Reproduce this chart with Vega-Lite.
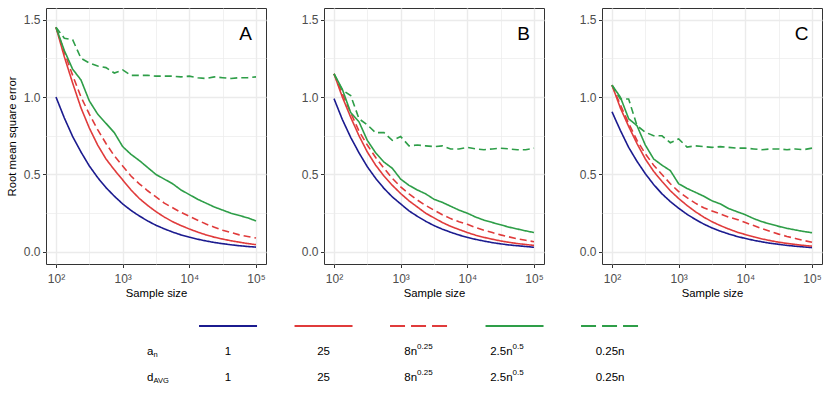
{
  "$schema": "https://vega.github.io/schema/vega-lite/v6.json",
  "padding": {"left": 5, "top": 7, "right": 5, "bottom": 0},
  "background": "white",
  "config": {
    "font": "Liberation Sans",
    "view": {"stroke": "#333333", "strokeWidth": 1},
    "axis": {
      "domain": false,
      "gridColor": "#EBEBEB",
      "tickColor": "#333333",
      "tickSize": 3.5,
      "labelColor": "#4D4D4D",
      "labelFont": "Liberation Sans",
      "labelFontSize": 12,
      "titleFont": "Liberation Sans",
      "titleFontSize": 11.3,
      "titleFontWeight": "normal",
      "titleColor": "#000000",
      "labelPadding": 2.5,
      "titlePadding": 6
    }
  },
  "datasets": {
    "rmse": [
      {"panel":"A","n":100,"a1":1.0,"a25":1.45,"a8":1.45,"a2_5":1.45,"a025":1.45},
      {"panel":"A","n":133.4,"a1":0.865,"a25":1.26,"a8":1.29,"a2_5":1.30,"a025":1.38},
      {"panel":"A","n":177.8,"a1":0.745,"a25":1.09,"a8":1.14,"a2_5":1.18,"a025":1.37},
      {"panel":"A","n":237.1,"a1":0.645,"a25":0.93,"a8":1.0,"a2_5":1.11,"a025":1.25},
      {"panel":"A","n":316.2,"a1":0.555,"a25":0.80,"a8":0.89,"a2_5":0.975,"a025":1.22},
      {"panel":"A","n":421.7,"a1":0.48,"a25":0.69,"a8":0.79,"a2_5":0.89,"a025":1.20},
      {"panel":"A","n":562.3,"a1":0.415,"a25":0.60,"a8":0.70,"a2_5":0.83,"a025":1.19},
      {"panel":"A","n":749.9,"a1":0.36,"a25":0.53,"a8":0.62,"a2_5":0.77,"a025":1.155},
      {"panel":"A","n":1000,"a1":0.31,"a25":0.465,"a8":0.555,"a2_5":0.68,"a025":1.175},
      {"panel":"A","n":1333.5,"a1":0.268,"a25":0.40,"a8":0.49,"a2_5":0.63,"a025":1.14},
      {"panel":"A","n":1778.3,"a1":0.232,"a25":0.345,"a8":0.44,"a2_5":0.59,"a025":1.14},
      {"panel":"A","n":2371.4,"a1":0.2,"a25":0.30,"a8":0.395,"a2_5":0.545,"a025":1.14},
      {"panel":"A","n":3162.3,"a1":0.172,"a25":0.26,"a8":0.355,"a2_5":0.50,"a025":1.135},
      {"panel":"A","n":4217,"a1":0.149,"a25":0.225,"a8":0.315,"a2_5":0.47,"a025":1.135},
      {"panel":"A","n":5623.4,"a1":0.128,"a25":0.195,"a8":0.285,"a2_5":0.44,"a025":1.135},
      {"panel":"A","n":7498.9,"a1":0.11,"a25":0.17,"a8":0.255,"a2_5":0.40,"a025":1.13},
      {"panel":"A","n":10000,"a1":0.095,"a25":0.148,"a8":0.23,"a2_5":0.37,"a025":1.135},
      {"panel":"A","n":13335,"a1":0.082,"a25":0.128,"a8":0.205,"a2_5":0.34,"a025":1.125},
      {"panel":"A","n":17783,"a1":0.071,"a25":0.11,"a8":0.18,"a2_5":0.315,"a025":1.12},
      {"panel":"A","n":23714,"a1":0.061,"a25":0.095,"a8":0.16,"a2_5":0.29,"a025":1.13},
      {"panel":"A","n":31623,"a1":0.053,"a25":0.083,"a8":0.14,"a2_5":0.27,"a025":1.125},
      {"panel":"A","n":42170,"a1":0.046,"a25":0.072,"a8":0.125,"a2_5":0.25,"a025":1.12},
      {"panel":"A","n":56234,"a1":0.04,"a25":0.063,"a8":0.11,"a2_5":0.235,"a025":1.125},
      {"panel":"A","n":74989,"a1":0.035,"a25":0.054,"a8":0.1,"a2_5":0.22,"a025":1.125},
      {"panel":"A","n":100000,"a1":0.031,"a25":0.047,"a8":0.09,"a2_5":0.20,"a025":1.13},

      {"panel":"B","n":100,"a1":0.99,"a25":1.15,"a8":1.15,"a2_5":1.15,"a025":1.15},
      {"panel":"B","n":133.4,"a1":0.855,"a25":1.0,"a8":1.02,"a2_5":1.05,"a025":1.045},
      {"panel":"B","n":177.8,"a1":0.74,"a25":0.87,"a8":0.9,"a2_5":0.9,"a025":1.01},
      {"panel":"B","n":237.1,"a1":0.64,"a25":0.75,"a8":0.78,"a2_5":0.84,"a025":0.86},
      {"panel":"B","n":316.2,"a1":0.55,"a25":0.645,"a8":0.69,"a2_5":0.72,"a025":0.82},
      {"panel":"B","n":421.7,"a1":0.475,"a25":0.56,"a8":0.61,"a2_5":0.64,"a025":0.77},
      {"panel":"B","n":562.3,"a1":0.41,"a25":0.49,"a8":0.54,"a2_5":0.58,"a025":0.77},
      {"panel":"B","n":749.9,"a1":0.355,"a25":0.43,"a8":0.475,"a2_5":0.54,"a025":0.72},
      {"panel":"B","n":1000,"a1":0.31,"a25":0.377,"a8":0.42,"a2_5":0.47,"a025":0.745},
      {"panel":"B","n":1333.5,"a1":0.265,"a25":0.33,"a8":0.375,"a2_5":0.43,"a025":0.685},
      {"panel":"B","n":1778.3,"a1":0.23,"a25":0.29,"a8":0.335,"a2_5":0.40,"a025":0.69},
      {"panel":"B","n":2371.4,"a1":0.198,"a25":0.25,"a8":0.3,"a2_5":0.375,"a025":0.685},
      {"panel":"B","n":3162.3,"a1":0.17,"a25":0.22,"a8":0.27,"a2_5":0.34,"a025":0.68},
      {"panel":"B","n":4217,"a1":0.147,"a25":0.19,"a8":0.24,"a2_5":0.32,"a025":0.685},
      {"panel":"B","n":5623.4,"a1":0.127,"a25":0.165,"a8":0.215,"a2_5":0.295,"a025":0.665},
      {"panel":"B","n":7498.9,"a1":0.109,"a25":0.145,"a8":0.195,"a2_5":0.27,"a025":0.665},
      {"panel":"B","n":10000,"a1":0.094,"a25":0.125,"a8":0.178,"a2_5":0.25,"a025":0.675},
      {"panel":"B","n":13335,"a1":0.081,"a25":0.108,"a8":0.157,"a2_5":0.225,"a025":0.665},
      {"panel":"B","n":17783,"a1":0.07,"a25":0.094,"a8":0.14,"a2_5":0.205,"a025":0.66},
      {"panel":"B","n":23714,"a1":0.06,"a25":0.082,"a8":0.125,"a2_5":0.19,"a025":0.665},
      {"panel":"B","n":31623,"a1":0.052,"a25":0.071,"a8":0.11,"a2_5":0.175,"a025":0.67},
      {"panel":"B","n":42170,"a1":0.045,"a25":0.062,"a8":0.097,"a2_5":0.16,"a025":0.665},
      {"panel":"B","n":56234,"a1":0.04,"a25":0.054,"a8":0.085,"a2_5":0.148,"a025":0.66},
      {"panel":"B","n":74989,"a1":0.035,"a25":0.048,"a8":0.075,"a2_5":0.136,"a025":0.66},
      {"panel":"B","n":100000,"a1":0.03,"a25":0.042,"a8":0.066,"a2_5":0.125,"a025":0.67},

      {"panel":"C","n":100,"a1":0.905,"a25":1.077,"a8":1.077,"a2_5":1.077,"a025":1.077},
      {"panel":"C","n":133.4,"a1":0.785,"a25":0.93,"a8":0.95,"a2_5":1.0,"a025":0.987},
      {"panel":"C","n":177.8,"a1":0.675,"a25":0.81,"a8":0.83,"a2_5":0.86,"a025":0.987},
      {"panel":"C","n":237.1,"a1":0.585,"a25":0.7,"a8":0.72,"a2_5":0.815,"a025":0.815},
      {"panel":"C","n":316.2,"a1":0.505,"a25":0.6,"a8":0.634,"a2_5":0.69,"a025":0.773},
      {"panel":"C","n":421.7,"a1":0.435,"a25":0.52,"a8":0.56,"a2_5":0.6,"a025":0.75},
      {"panel":"C","n":562.3,"a1":0.375,"a25":0.455,"a8":0.5,"a2_5":0.56,"a025":0.75},
      {"panel":"C","n":749.9,"a1":0.325,"a25":0.395,"a8":0.44,"a2_5":0.525,"a025":0.705},
      {"panel":"C","n":1000,"a1":0.282,"a25":0.345,"a8":0.39,"a2_5":0.44,"a025":0.73},
      {"panel":"C","n":1333.5,"a1":0.243,"a25":0.3,"a8":0.35,"a2_5":0.41,"a025":0.677},
      {"panel":"C","n":1778.3,"a1":0.21,"a25":0.26,"a8":0.315,"a2_5":0.385,"a025":0.685},
      {"panel":"C","n":2371.4,"a1":0.18,"a25":0.225,"a8":0.285,"a2_5":0.36,"a025":0.68},
      {"panel":"C","n":3162.3,"a1":0.155,"a25":0.195,"a8":0.265,"a2_5":0.33,"a025":0.675},
      {"panel":"C","n":4217,"a1":0.134,"a25":0.17,"a8":0.245,"a2_5":0.31,"a025":0.68},
      {"panel":"C","n":5623.4,"a1":0.116,"a25":0.148,"a8":0.225,"a2_5":0.28,"a025":0.675},
      {"panel":"C","n":7498.9,"a1":0.1,"a25":0.128,"a8":0.21,"a2_5":0.26,"a025":0.67},
      {"panel":"C","n":10000,"a1":0.087,"a25":0.112,"a8":0.19,"a2_5":0.24,"a025":0.67},
      {"panel":"C","n":13335,"a1":0.075,"a25":0.097,"a8":0.17,"a2_5":0.215,"a025":0.665},
      {"panel":"C","n":17783,"a1":0.065,"a25":0.084,"a8":0.15,"a2_5":0.195,"a025":0.66},
      {"panel":"C","n":23714,"a1":0.056,"a25":0.073,"a8":0.132,"a2_5":0.18,"a025":0.665},
      {"panel":"C","n":31623,"a1":0.049,"a25":0.063,"a8":0.115,"a2_5":0.165,"a025":0.665},
      {"panel":"C","n":42170,"a1":0.042,"a25":0.055,"a8":0.1,"a2_5":0.152,"a025":0.66},
      {"panel":"C","n":56234,"a1":0.037,"a25":0.048,"a8":0.087,"a2_5":0.142,"a025":0.665},
      {"panel":"C","n":74989,"a1":0.032,"a25":0.042,"a8":0.074,"a2_5":0.132,"a025":0.66},
      {"panel":"C","n":100000,"a1":0.028,"a25":0.037,"a8":0.062,"a2_5":0.124,"a025":0.67}
    ],
    "legkeys": [
      {"col":1,"key":"a1","dashed":false},
      {"col":2,"key":"a25","dashed":false},
      {"col":3,"key":"a8","dashed":true},
      {"col":4,"key":"a2_5","dashed":false},
      {"col":5,"key":"a025","dashed":true}
    ],
    "legtext": [
      {"row":"a","col":1,"base":"1","sup":""},
      {"row":"a","col":2,"base":"25","sup":""},
      {"row":"a","col":3,"base":"8n","sup":"0.25"},
      {"row":"a","col":4,"base":"2.5n","sup":"0.5"},
      {"row":"a","col":5,"base":"0.25n","sup":""},
      {"row":"d","col":1,"base":"1","sup":""},
      {"row":"d","col":2,"base":"25","sup":""},
      {"row":"d","col":3,"base":"8n","sup":"0.25"},
      {"row":"d","col":4,"base":"2.5n","sup":"0.5"},
      {"row":"d","col":5,"base":"0.25n","sup":""}
    ],
    "leglab": [
      {"row":"a","col":0,"base":"a","sub":"n"},
      {"row":"d","col":0,"base":"d","sub":"AVG"}
    ],
    "panels": [
      {"panel":"A"},{"panel":"B"},{"panel":"C"}
    ]
  },
  "vconcat": [
    {
      "spacing": 33,
      "hconcat": [
        {
          "width": 220, "height": 256,
          "layer": [
            {
              "data": {"name": "rmse"},
              "transform": [
                {"filter": "datum.panel == 'A'"},
                {"fold": ["a1","a25","a8","a2_5","a025"], "as": ["series","rmse"]}
              ],
              "mark": {"type": "line", "strokeWidth": 1.6, "clip": true},
              "encoding": {
                "x": {"field": "n", "type": "quantitative",
                  "scale": {"type": "log", "domain": [70.8, 141254], "nice": false},
                  "axis": {"title": "Sample size", "labelPadding": 6, "titlePadding": 3,
                    "values": [100, 316.228, 1000, 3162.28, 10000, 31622.8, 100000],
                    "labelExpr": "datum.value==100?'10²':datum.value==1000?'10³':datum.value==10000?'10⁴':datum.value==100000?'10⁵':''",
                    "gridWidth": {"condition": {"test": "datum.value==100||datum.value==1000||datum.value==10000||datum.value==100000", "value": 1.4}, "value": 0.7},
                    "tickOpacity": {"condition": {"test": "datum.value==100||datum.value==1000||datum.value==10000||datum.value==100000", "value": 1}, "value": 0}}},
                "y": {"field": "rmse", "type": "quantitative",
                  "scale": {"domain": [-0.078, 1.575], "nice": false, "zero": false},
                  "axis": {"title": "Root mean square error",
                    "values": [0, 0.25, 0.5, 0.75, 1, 1.25, 1.5],
                    "labelExpr": "(datum.value*2)%1==0 ? format(datum.value,'.1f') : ''",
                    "gridWidth": {"condition": {"test": "(datum.value*2)%1==0", "value": 1.4}, "value": 0.7},
                    "tickOpacity": {"condition": {"test": "(datum.value*2)%1==0", "value": 1}, "value": 0}}},
                "color": {"field": "series", "type": "nominal",
                  "scale": {"domain": ["a1","a25","a8","a2_5","a025"], "range": ["#1B1B8F","#E03B3B","#E03B3B","#2E9E48","#2E9E48"]},
                  "legend": null},
                "strokeDash": {"field": "series", "type": "nominal",
                  "scale": {"domain": ["a1","a25","a8","a2_5","a025"], "range": [[1,0],[1,0],[7,4],[1,0],[7,4]]},
                  "legend": null}
              }
            },
            {
              "data": {"name": "panels"},
              "transform": [{"filter": "datum.panel == 'A'"}],
              "mark": {"type": "text", "fontSize": 19, "font": "Liberation Sans", "color": "#000000"},
              "encoding": {
                "x": {"datum": 70000, "type": "quantitative"},
                "y": {"datum": 1.41, "type": "quantitative"},
                "text": {"field": "panel"}
              }
            }
          ]
        },
        {
          "width": 220, "height": 256,
          "layer": [
            {
              "data": {"name": "rmse"},
              "transform": [
                {"filter": "datum.panel == 'B'"},
                {"fold": ["a1","a25","a8","a2_5","a025"], "as": ["series","rmse"]}
              ],
              "mark": {"type": "line", "strokeWidth": 1.6, "clip": true},
              "encoding": {
                "x": {"field": "n", "type": "quantitative",
                  "scale": {"type": "log", "domain": [70.8, 141254], "nice": false},
                  "axis": {"title": "Sample size", "labelPadding": 6, "titlePadding": 3,
                    "values": [100, 316.228, 1000, 3162.28, 10000, 31622.8, 100000],
                    "labelExpr": "datum.value==100?'10²':datum.value==1000?'10³':datum.value==10000?'10⁴':datum.value==100000?'10⁵':''",
                    "gridWidth": {"condition": {"test": "datum.value==100||datum.value==1000||datum.value==10000||datum.value==100000", "value": 1.4}, "value": 0.7},
                    "tickOpacity": {"condition": {"test": "datum.value==100||datum.value==1000||datum.value==10000||datum.value==100000", "value": 1}, "value": 0}}},
                "y": {"field": "rmse", "type": "quantitative",
                  "scale": {"domain": [-0.078, 1.575], "nice": false, "zero": false},
                  "axis": {"title": null,
                    "values": [0, 0.25, 0.5, 0.75, 1, 1.25, 1.5],
                    "labelExpr": "(datum.value*2)%1==0 ? format(datum.value,'.1f') : ''",
                    "gridWidth": {"condition": {"test": "(datum.value*2)%1==0", "value": 1.4}, "value": 0.7},
                    "tickOpacity": {"condition": {"test": "(datum.value*2)%1==0", "value": 1}, "value": 0}}},
                "color": {"field": "series", "type": "nominal",
                  "scale": {"domain": ["a1","a25","a8","a2_5","a025"], "range": ["#1B1B8F","#E03B3B","#E03B3B","#2E9E48","#2E9E48"]},
                  "legend": null},
                "strokeDash": {"field": "series", "type": "nominal",
                  "scale": {"domain": ["a1","a25","a8","a2_5","a025"], "range": [[1,0],[1,0],[7,4],[1,0],[7,4]]},
                  "legend": null}
              }
            },
            {
              "data": {"name": "panels"},
              "transform": [{"filter": "datum.panel == 'B'"}],
              "mark": {"type": "text", "fontSize": 19, "font": "Liberation Sans", "color": "#000000"},
              "encoding": {
                "x": {"datum": 70000, "type": "quantitative"},
                "y": {"datum": 1.41, "type": "quantitative"},
                "text": {"field": "panel"}
              }
            }
          ]
        },
        {
          "width": 220, "height": 256,
          "layer": [
            {
              "data": {"name": "rmse"},
              "transform": [
                {"filter": "datum.panel == 'C'"},
                {"fold": ["a1","a25","a8","a2_5","a025"], "as": ["series","rmse"]}
              ],
              "mark": {"type": "line", "strokeWidth": 1.6, "clip": true},
              "encoding": {
                "x": {"field": "n", "type": "quantitative",
                  "scale": {"type": "log", "domain": [70.8, 141254], "nice": false},
                  "axis": {"title": "Sample size", "labelPadding": 6, "titlePadding": 3,
                    "values": [100, 316.228, 1000, 3162.28, 10000, 31622.8, 100000],
                    "labelExpr": "datum.value==100?'10²':datum.value==1000?'10³':datum.value==10000?'10⁴':datum.value==100000?'10⁵':''",
                    "gridWidth": {"condition": {"test": "datum.value==100||datum.value==1000||datum.value==10000||datum.value==100000", "value": 1.4}, "value": 0.7},
                    "tickOpacity": {"condition": {"test": "datum.value==100||datum.value==1000||datum.value==10000||datum.value==100000", "value": 1}, "value": 0}}},
                "y": {"field": "rmse", "type": "quantitative",
                  "scale": {"domain": [-0.078, 1.575], "nice": false, "zero": false},
                  "axis": {"title": null,
                    "values": [0, 0.25, 0.5, 0.75, 1, 1.25, 1.5],
                    "labelExpr": "(datum.value*2)%1==0 ? format(datum.value,'.1f') : ''",
                    "gridWidth": {"condition": {"test": "(datum.value*2)%1==0", "value": 1.4}, "value": 0.7},
                    "tickOpacity": {"condition": {"test": "(datum.value*2)%1==0", "value": 1}, "value": 0}}},
                "color": {"field": "series", "type": "nominal",
                  "scale": {"domain": ["a1","a25","a8","a2_5","a025"], "range": ["#1B1B8F","#E03B3B","#E03B3B","#2E9E48","#2E9E48"]},
                  "legend": null},
                "strokeDash": {"field": "series", "type": "nominal",
                  "scale": {"domain": ["a1","a25","a8","a2_5","a025"], "range": [[1,0],[1,0],[7,4],[1,0],[7,4]]},
                  "legend": null}
              }
            },
            {
              "data": {"name": "panels"},
              "transform": [{"filter": "datum.panel == 'C'"}],
              "mark": {"type": "text", "fontSize": 19, "font": "Liberation Sans", "color": "#000000"},
              "encoding": {
                "x": {"datum": 70000, "type": "quantitative"},
                "y": {"datum": 1.41, "type": "quantitative"},
                "text": {"field": "panel"}
              }
            }
          ]
        }
      ]
    },
    {
      "width": 775, "height": 78,
      "view": {"stroke": null},
      "layer": [
        {
          "data": {"name": "legkeys"},
          "transform": [{"filter": "!datum.dashed"}],
          "mark": {"type": "rule", "strokeWidth": 2, "xOffset": -29, "x2Offset": 29},
          "encoding": {
            "x": {"field": "col", "type": "quantitative", "scale": {"domain": [-0.906, 7.209], "nice": false, "zero": false}, "axis": null},
            "x2": {"field": "col"},
            "y": {"datum": "line", "type": "ordinal", "scale": {"type": "point", "domain": ["line","a","d"], "padding": 0.5}, "axis": null},
            "color": {"field": "key", "type": "nominal",
              "scale": {"domain": ["a1","a25","a8","a2_5","a025"], "range": ["#1B1B8F","#E03B3B","#E03B3B","#2E9E48","#2E9E48"]},
              "legend": null}
          }
        },
        {
          "data": {"name": "legkeys"},
          "transform": [{"filter": "datum.dashed"}],
          "mark": {"type": "rule", "strokeWidth": 2, "xOffset": -29, "x2Offset": 29, "strokeDash": [15, 6]},
          "encoding": {
            "x": {"field": "col", "type": "quantitative"},
            "x2": {"field": "col"},
            "y": {"datum": "line", "type": "ordinal"},
            "color": {"field": "key", "type": "nominal", "legend": null}
          }
        },
        {
          "data": {"name": "legtext"},
          "transform": [{"filter": "datum.sup == ''"}],
          "mark": {"type": "text", "fontSize": 11.5, "font": "Liberation Sans", "color": "#000000", "align": "center", "baseline": "middle"},
          "encoding": {
            "x": {"field": "col", "type": "quantitative"},
            "y": {"field": "row", "type": "ordinal"},
            "text": {"field": "base"}
          }
        },
        {
          "data": {"name": "legtext"},
          "transform": [{"filter": "datum.sup != ''"}],
          "mark": {"type": "text", "fontSize": 11.5, "font": "Liberation Sans", "color": "#000000", "align": "right", "baseline": "middle", "dx": -2},
          "encoding": {
            "x": {"field": "col", "type": "quantitative"},
            "y": {"field": "row", "type": "ordinal"},
            "text": {"field": "base"}
          }
        },
        {
          "data": {"name": "legtext"},
          "transform": [{"filter": "datum.sup != ''"}],
          "mark": {"type": "text", "fontSize": 8, "font": "Liberation Sans", "color": "#000000", "align": "left", "baseline": "middle", "dx": -2, "dy": -5},
          "encoding": {
            "x": {"field": "col", "type": "quantitative"},
            "y": {"field": "row", "type": "ordinal"},
            "text": {"field": "sup"}
          }
        },
        {
          "data": {"name": "leglab"},
          "mark": {"type": "text", "fontSize": 11.5, "font": "Liberation Sans", "color": "#000000", "align": "right", "baseline": "middle", "dx": 21},
          "encoding": {
            "x": {"field": "col", "type": "quantitative"},
            "y": {"field": "row", "type": "ordinal"},
            "text": {"field": "base"}
          }
        },
        {
          "data": {"name": "leglab"},
          "mark": {"type": "text", "fontSize": 7.5, "font": "Liberation Sans", "color": "#000000", "align": "left", "baseline": "middle", "dx": 21, "dy": 3},
          "encoding": {
            "x": {"field": "col", "type": "quantitative"},
            "y": {"field": "row", "type": "ordinal"},
            "text": {"field": "sub"}
          }
        }
      ]
    }
  ],
  "spacing": 13
}
